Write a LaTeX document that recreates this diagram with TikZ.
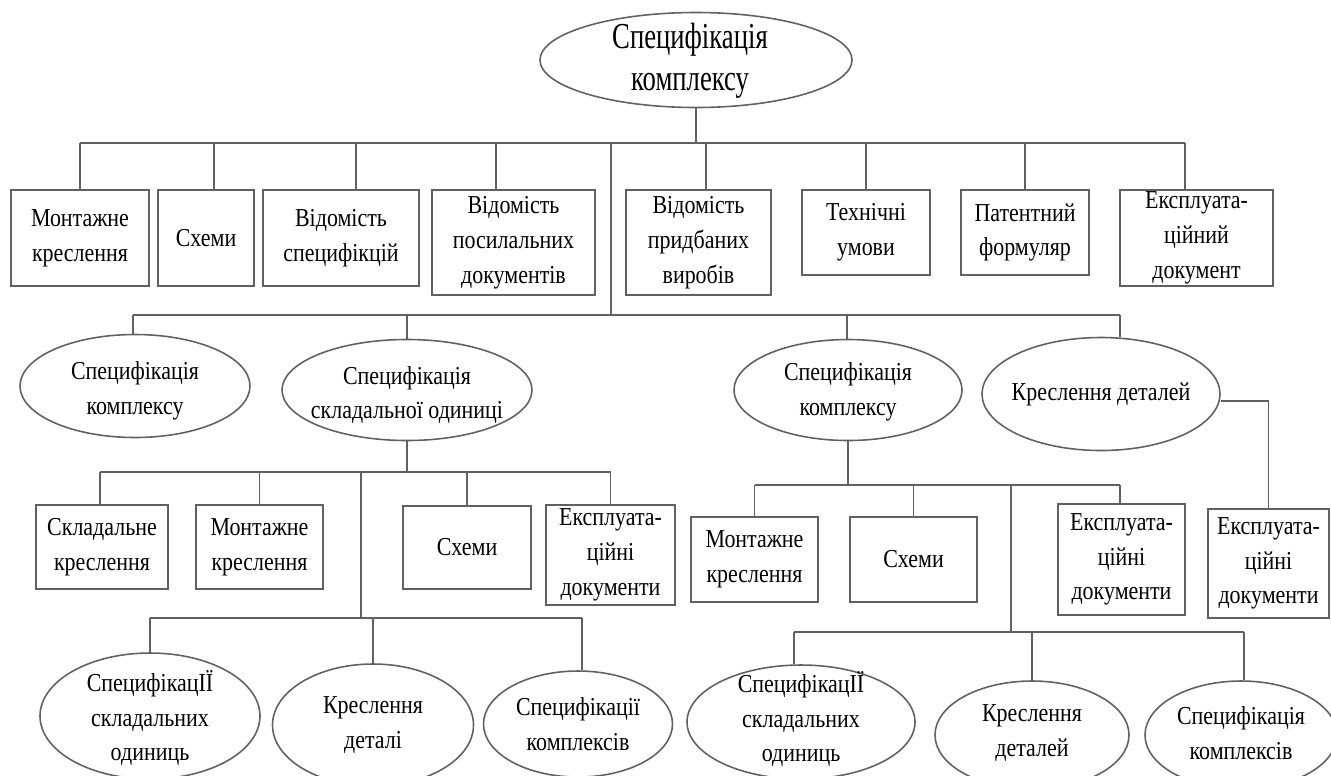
\documentclass[tikz,border=0pt]{standalone}
\usepackage{fontspec}
\newfontfamily\cf[FakeStretch=0.85]{Liberation Serif}
\newfontfamily\cft[FakeStretch=0.73]{Liberation Serif}
\usetikzlibrary{shapes.geometric}
\tikzset{
  ln/.style={draw=black!62, line width=0.9pt},
  bx/.style={rectangle, draw=black!62, line width=0.9pt, inner sep=0pt},
  el/.style={ellipse, draw=black!62, line width=0.9pt, inner sep=0pt},
  txt/.style={align=center, inner sep=0pt, text=black, font={\cf\fontsize{14.7}{19.8}\selectfont}},
  bigtxt/.style={txt, font={\cft\fontsize{20.8}{23.8}\selectfont}}
}
% box: name, x1, y1, x2, y2, text
\newcommand\boxnode[6]{%
  \node[bx, minimum width={(#4-#2)*0.02cm}, minimum height={(#5-#3)*0.02cm}] (#1) at ({(#2+#4)/2},{(#3+#5)/2}) {};
  \node[txt] (#1-t) at (#1) {#6};}
% ellipse: name, cx, cy, w, h, text-centre y, text
\newcommand\ellnode[7]{%
  \node[el, minimum width={#4*0.02cm}, minimum height={#5*0.02cm}] (#1) at (#2,#3) {};
  \node[txt] (#1-t) at (#2,#6) {#7};}
% drop from child: node, x offset (px), bar coordinate
\newcommand\drop[3]{%
  \path ([xshift={#2*0.02cm}]#1.north) coordinate (#1-d);
  \draw[ln] (#1-d) -- (#1-d |- #3);}
\begin{document}
\begin{tikzpicture}[x=0.02cm, y=-0.02cm]
\useasboundingbox (0,0) rectangle (1331,775);
\clip (0,0) rectangle (1331,775);

% bars
\coordinate (bar1) at (0,143);
\coordinate (bar2) at (0,315);
\coordinate (bar3L) at (0,472);
\coordinate (bar4L) at (0,618);
\coordinate (bar3R) at (0,485);
\coordinate (bar4R) at (0,632);
\coordinate (sp1) at (611,143);
\coordinate (sp2) at (361,472);
\coordinate (sp3) at (1011,485);

% root
\node[el, minimum width={312*0.02cm}, minimum height={95*0.02cm}] (root) at (696,60) {};
\node[bigtxt] (root-t) at (690,61) {Специфікація\\комплексу};

% row 1
\boxnode{b1}{11}{190}{149}{286}{Монтажне\\креслення}
\boxnode{b2}{158}{190}{254}{286}{Схеми}
\boxnode{b3}{263}{190}{419}{286}{Відомість\\специфікцій}
\boxnode{b4}{432}{190}{595}{295}{Відомість\\посилальних\\документів}
\boxnode{b5}{626}{190}{771}{295}{Відомість\\придбаних\\виробів}
\boxnode{b6}{802}{190}{930}{275}{Технічні\\умови}
\boxnode{b7}{961}{190}{1089}{275}{Патентний\\формуляр}
\boxnode{b8}{1120}{190}{1273}{286}{Експлуата-\\ційний\\документ}

% row 2
\ellnode{e1}{135}{386}{230}{103}{391}{Специфікація\\комплексу}
\ellnode{e2}{407}{390}{250}{101}{395}{Специфікація\\складальної одиниці}
\ellnode{e3}{848}{390}{228}{101}{392}{Специфікація\\комплексу}
\ellnode{e4}{1101}{394}{238}{113}{394}{Креслення деталей}

% row 3 left
\boxnode{l1}{36}{505}{168}{589}{Складальне\\креслення}
\boxnode{l2}{196}{505}{323}{589}{Монтажне\\креслення}
\boxnode{l3}{403}{506}{531}{589}{Схеми}
\boxnode{l4}{546}{505}{675}{605}{Експлуата-\\ційні\\документи}

% row 3 right
\boxnode{r1}{691}{517}{818}{602}{Монтажне\\креслення}
\boxnode{r2}{850}{517}{977}{602}{Схеми}
\boxnode{r4}{1058}{504}{1185}{615}{Експлуата-\\ційні\\документи}
\boxnode{r5}{1208}{509}{1329}{618}{Експлуата-\\ційні\\документи}

% row 4 left
\ellnode{le1}{150}{716}{220}{126}{718}{СпецифікацІЇ\\складальних\\одиниць}
\ellnode{le2}{373}{725}{201}{122}{725}{Креслення\\деталі}
\ellnode{le3}{578}{724}{189}{106}{724}{Специфікації\\комплексів}

% row 4 right
\ellnode{re1}{801}{722}{228}{114}{719}{СпецифікацІЇ\\складальних\\одиниць}
\ellnode{re2}{1032}{735}{194}{108}{733}{Креслення\\деталей}
\ellnode{re3}{1241}{735}{192}{108}{733}{Специфікація\\комплексів}

% level 1 connectors
\draw[ln] (root.south) -- (root.south |- bar1);
\drop{b1}{0}{bar1}
\drop{b2}{8}{bar1}
\drop{b3}{15}{bar1}
\drop{b4}{-17.5}{bar1}
\drop{b5}{7.5}{bar1}
\drop{b6}{0}{bar1}
\drop{b7}{0}{bar1}
\drop{b8}{-11.5}{bar1}
\draw[ln] (b1-d |- bar1) -- (b8-d |- bar1);
\draw[ln] (sp1) -- (sp1 |- bar2);

% level 2 connectors
\drop{e1}{-2}{bar2}
\drop{e2}{0}{bar2}
\drop{e3}{-1}{bar2}
\drop{e4}{19}{bar2}
\draw[ln] (e1-d |- bar2) -- (e4-d |- bar2);

% left subtree
\draw[ln] (e2.south) -- (e2.south |- bar3L);
\drop{l1}{-2}{bar3L}
\drop{l2}{0}{bar3L}
\drop{l3}{0}{bar3L}
\drop{l4}{0}{bar3L}
\draw[ln] (l1-d |- bar3L) -- (l4-d |- bar3L);
\draw[ln] (sp2) -- (sp2 |- bar4L);
\drop{le1}{0}{bar4L}
\drop{le2}{0}{bar4L}
\drop{le3}{4}{bar4L}
\draw[ln] (le1-d |- bar4L) -- (le3-d |- bar4L);

% right subtree
\draw[ln] (e3.south) -- (e3.south |- bar3R);
\drop{r1}{0}{bar3R}
\drop{r2}{0}{bar3R}
\drop{r4}{-1.5}{bar3R}
\draw[ln] (r1-d |- bar3R) -- (r4-d |- bar3R);
\draw[ln] (sp3) -- (sp3 |- bar4R);
\drop{re1}{-7}{bar4R}
\drop{re2}{0}{bar4R}
\drop{re3}{3}{bar4R}
\draw[ln] (re1-d |- bar4R) -- (re3-d |- bar4R);

% detail drawing to its documents
\draw[ln] ([yshift={-7*0.02cm}]e4.east) -| (r5.north);
\end{tikzpicture}
\end{document}
